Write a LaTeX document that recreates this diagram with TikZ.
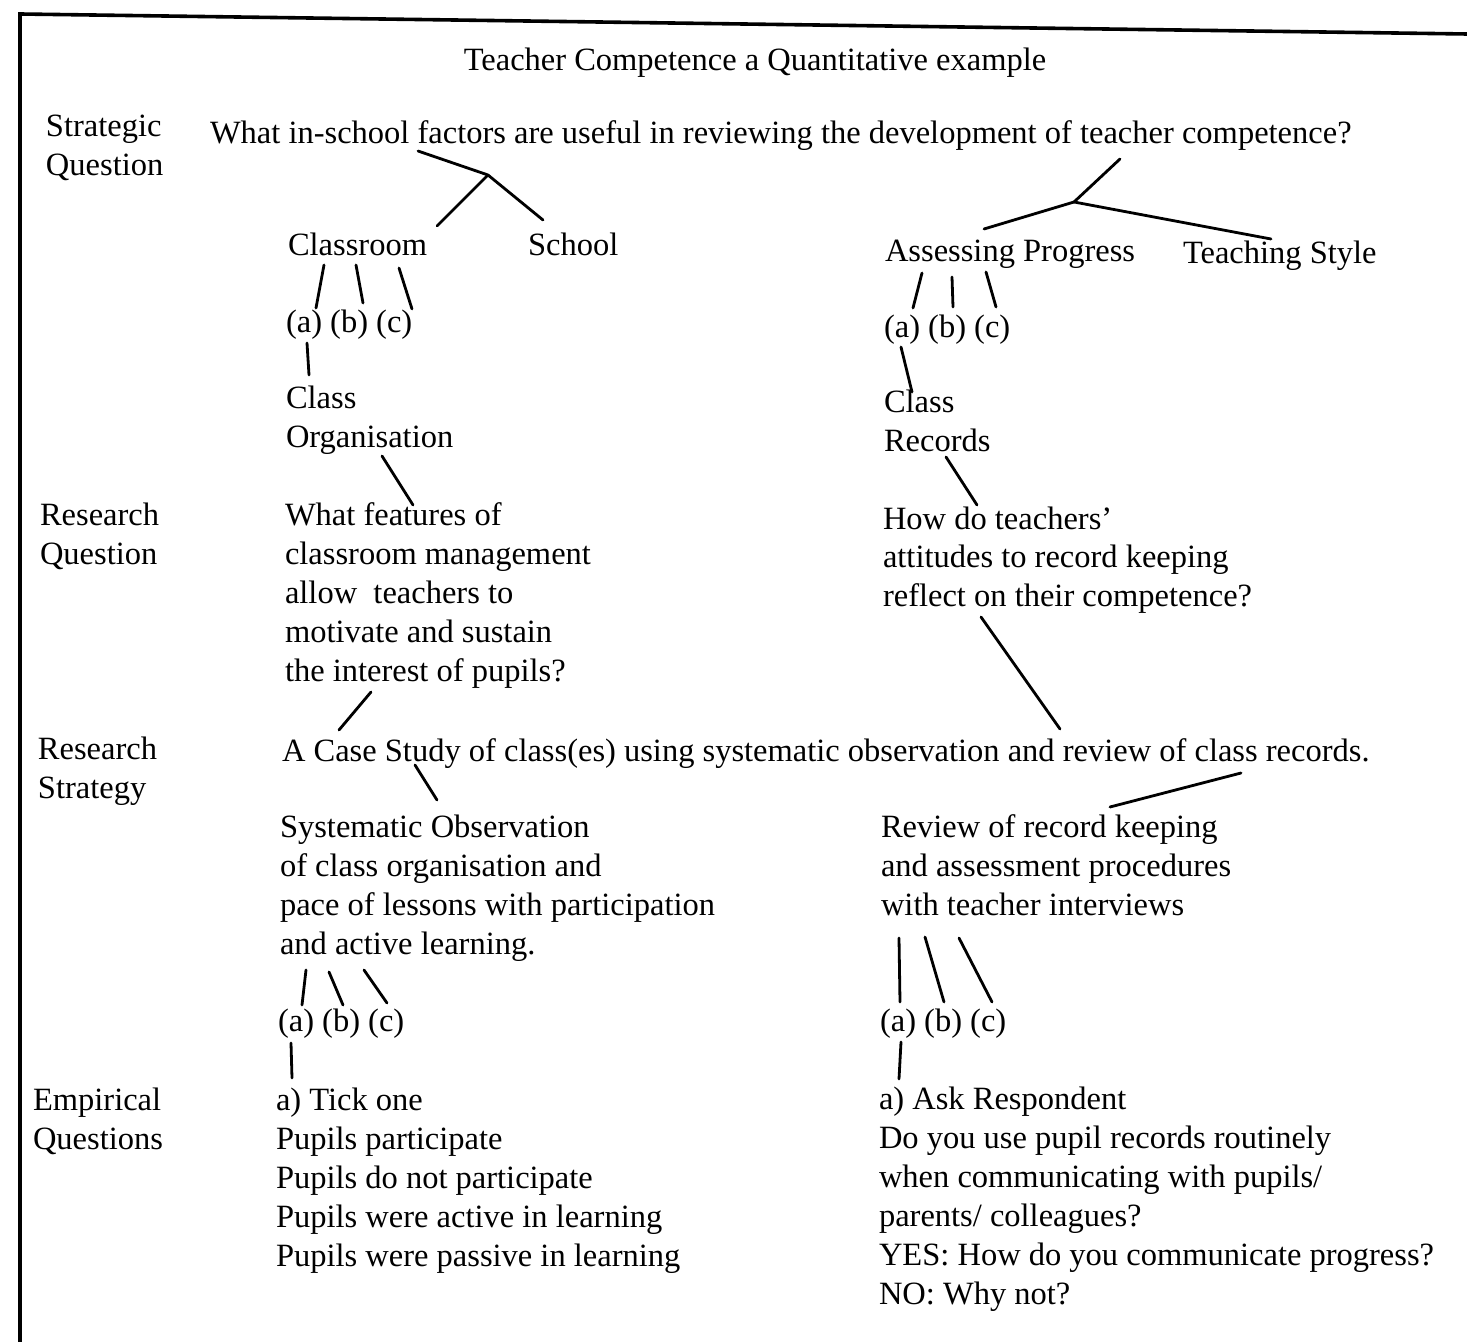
\documentclass[tikz,border=0pt]{standalone}
\usepackage{fontspec}
\setmainfont{Liberation Serif}
\newcommand{\stack}[1]{\begin{tabular}[t]{@{}l@{}}#1\end{tabular}}
\begin{document}
\begin{tikzpicture}[x=0.5pt,y=-0.5pt,
  txt/.style={anchor=base west,inner sep=0pt,outer sep=0pt,
    font=\fontsize{16.25}{19.5}\selectfont},
  conn/.style={line width=1.4pt,line cap=round},
  frame/.style={line width=1.8pt}]
\useasboundingbox (0,0) rectangle (1467,1342);
% page frame
\draw[frame] (1467,34) -- (20,14) -- (20,1342);

% title
\node[txt,anchor=base] (title) at (755,71) {Teacher Competence a Quantitative example};

% level labels
\node[txt] (lab1) at (46,137) {\stack{Strategic\\Question}};
\node[txt] (lab2) at (40,525) {\stack{Research\\Question}};
\node[txt] (lab3) at (38,759) {\stack{Research\\Strategy}};
\node[txt] (lab4) at (33,1110) {\stack{Empirical\\Questions}};

% strategic question and its factors
\node[txt] (sq) at (210,144) {What in-school factors are useful in reviewing the development of teacher competence?};
\node[txt] (cr) at (288,256) {Classroom};
\node[txt] (sc) at (528,256) {School};
\node[txt] (ap) at (885,262) {Assessing Progress};
\node[txt] (ts) at (1183,264) {Teaching Style};
\node[txt] (abcL1) at (286,333) {(a) (b) (c)};
\node[txt] (abcR1) at (884,338) {(a) (b) (c)};
\node[txt] (co) at (286,409) {\stack{Class\\Organisation}};
\node[txt] (crec) at (884,413) {\stack{Class\\Records}};

% research questions
\node[txt] (rqL) at (285,525) {\stack{What features of\\classroom management\\allow\ \ teachers to\\motivate and sustain\\the interest of pupils?}};
\node[txt] (rqR) at (883,529) {\stack{How do teachers'\\attitudes to record keeping\\reflect on their competence?}};

% research strategy
\node[txt] (cs) at (282,761) {A Case Study of class(es) using systematic observation and review of class records.};
\node[txt] (so) at (280,837) {\stack{Systematic Observation\\of class organisation and\\pace of lessons with participation\\and active learning.}};
\node[txt] (rv) at (881,837) {\stack{Review of record keeping\\and assessment procedures\\with teacher interviews}};
\node[txt] (abcL2) at (278,1031) {(a) (b) (c)};
\node[txt] (abcR2) at (880,1031) {(a) (b) (c)};

% empirical questions
\node[txt] (eqL) at (276,1110) {\stack{a) Tick one\\Pupils participate\\Pupils do not participate\\Pupils were active in learning\\Pupils were passive in learning}};
\node[txt] (eqR) at (879,1109) {\stack{a) Ask Respondent\\Do you use pupil records routinely\\when communicating with pupils/\\parents/ colleagues?\\YES: How do you communicate progress?\\NO: Why not?}};

% branch points of the two trees
\coordinate (jL) at (488,175);
\coordinate (jR) at (1074,202);

% connectors
\draw[conn] ([shift={(208,7)}]sq.base west) -- (jL);
\draw[conn] (jL) -- ([shift={(149,-30)}]cr.base west);
\draw[conn] (jL) -- ([shift={(15,-36)}]sc.base west);
\draw[conn] ([shift={(910,15)}]sq.base west) -- (jR);
\draw[conn] (jR) -- ([shift={(99,-33)}]ap.base west);
\draw[conn] (jR) -- ([shift={(88,-25)}]ts.base west);

\draw[conn] ([shift={(36,9)}]cr.base west) -- ([shift={(30,-25)}]abcL1.base west);
\draw[conn] ([shift={(68,9)}]cr.base west) -- ([shift={(77,-30)}]abcL1.base west);
\draw[conn] ([shift={(111,12)}]cr.base west) -- ([shift={(126,-24)}]abcL1.base west);
\draw[conn] ([shift={(21,10)}]abcL1.base west) -- ([shift={(23,-34)}]co.base west);
\draw[conn] ([shift={(96,47)}]co.base west) -- ([shift={(128,-20)}]rqL.base west);

\draw[conn] ([shift={(37,11)}]ap.base west) -- ([shift={(29,-30)}]abcR1.base west);
\draw[conn] ([shift={(67,15)}]ap.base west) -- ([shift={(69,-31)}]abcR1.base west);
\draw[conn] ([shift={(101,10)}]ap.base west) -- ([shift={(112,-31)}]abcR1.base west);
\draw[conn] ([shift={(17,9)}]abcR1.base west) -- ([shift={(28,-21)}]crec.base west);
\draw[conn] ([shift={(62,44)}]crec.base west) -- ([shift={(94,-24)}]rqR.base west);

\draw[conn] ([shift={(86,167)}]rqL.base west) -- ([shift={(57,-31)}]cs.base west);
\draw[conn] ([shift={(98,88)}]rqR.base west) -- ([shift={(778,-32)}]cs.base west);
\draw[conn] ([shift={(133,4)}]cs.base west) -- ([shift={(157,-37)}]so.base west);
\draw[conn] ([shift={(959,12)}]cs.base west) -- ([shift={(229,-30)}]rv.base west);

\draw[conn] ([shift={(26,133)}]so.base west) -- ([shift={(24,-26)}]abcL2.base west);
\draw[conn] ([shift={(49,135)}]so.base west) -- ([shift={(65,-26)}]abcL2.base west);
\draw[conn] ([shift={(84,133)}]so.base west) -- ([shift={(109,-28)}]abcL2.base west);
\draw[conn] ([shift={(13,12)}]abcL2.base west) -- ([shift={(16,-32)}]eqL.base west);

\draw[conn] ([shift={(18,101)}]rv.base west) -- ([shift={(20,-29)}]abcR2.base west);
\draw[conn] ([shift={(44,100)}]rv.base west) -- ([shift={(64,-29)}]abcR2.base west);
\draw[conn] ([shift={(78,101)}]rv.base west) -- ([shift={(112,-29)}]abcR2.base west);
\draw[conn] ([shift={(21,11)}]abcR2.base west) -- ([shift={(20,-30)}]eqR.base west);
\end{tikzpicture}
\end{document}
